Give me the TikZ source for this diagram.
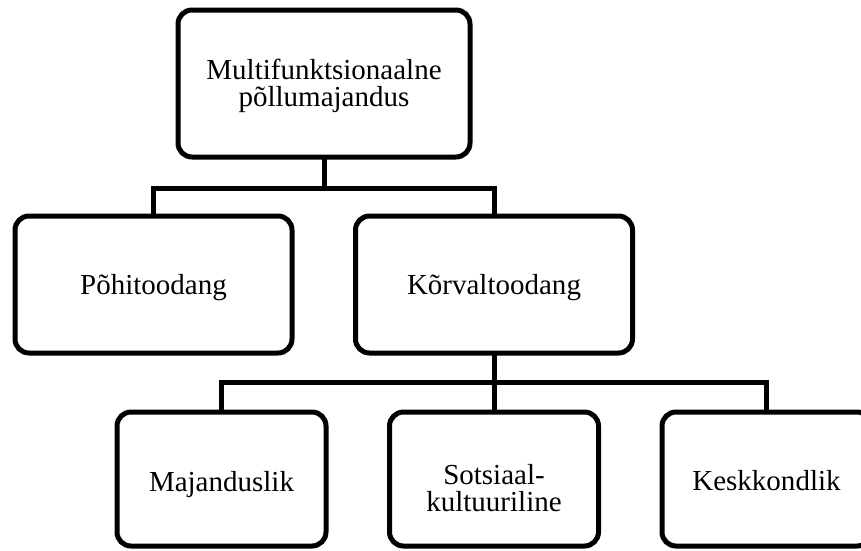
\documentclass[tikz,border=0pt]{standalone}
\usepackage{fontspec}
\setmainfont{Liberation Serif}
\begin{document}
\begin{tikzpicture}[x=1pt,y=1pt,
  box/.style={draw=black, line width=5pt, rounded corners=14pt, fill=white,
    inner sep=0pt, outer sep=0pt},
  topbox/.style={box, minimum width=292pt, minimum height=147pt},
  midbox/.style={box, minimum width=277pt, minimum height=137pt},
  lowbox/.style={box, minimum width=209pt, minimum height=134pt},
  label/.style={inner sep=0pt, align=center, font=\fontsize{29}{27}\selectfont},
  link/.style={draw=black, line width=5pt}]
  \path[use as bounding box, clip] (0,0) rectangle (861,-550);
  \fill[white] (0,0) rectangle (861,-550);

  % hierarchy boxes
  \node[topbox] (root) at (324,-83.5) {};
  \node[midbox] (pohi) at (153.5,-284.5) {};
  \node[midbox] (korv) at (494,-284.5) {};
  \node[lowbox] (maj)  at (221.5,-479) {};
  \node[lowbox] (sots) at (494,-479) {};
  \node[lowbox] (kesk) at (766.5,-479) {};

  % box texts
  \node[label] (root-t) at ([yshift=-2.5pt]root.center) {Multifunktsionaalne\\põllumajandus};
  \node[label] (pohi-t) at ([yshift=-3.5pt]pohi.center) {Põhitoodang};
  \node[label] (korv-t) at ([yshift=-3.5pt]korv.center) {Kõrvaltoodang};
  \node[label] (maj-t)  at ([yshift=-5.5pt]maj.center) {Majanduslik};
  \node[label] (sots-t) at ([yshift=-9pt]sots.center) {Sotsiaal-\\kultuuriline};
  \node[label] (kesk-t) at ([yshift=-2pt]kesk.center) {Keskkondlik};

  % bus levels of the connectors
  \coordinate (bus1) at (0,-188);
  \coordinate (bus2) at (0,-382.5);

  % connectors
  \draw[link] (root.south) -- (root.south |- bus1);
  \draw[link] (pohi.north) |- (root.south |- bus1) -| (korv.north);
  \draw[link] (korv.south) -- (korv.south |- bus2);
  \draw[link] (maj.north) |- (kesk.north |- bus2) -- (kesk.north);
  \draw[link] (sots.north) -- (sots.north |- bus2);
\end{tikzpicture}
\end{document}
